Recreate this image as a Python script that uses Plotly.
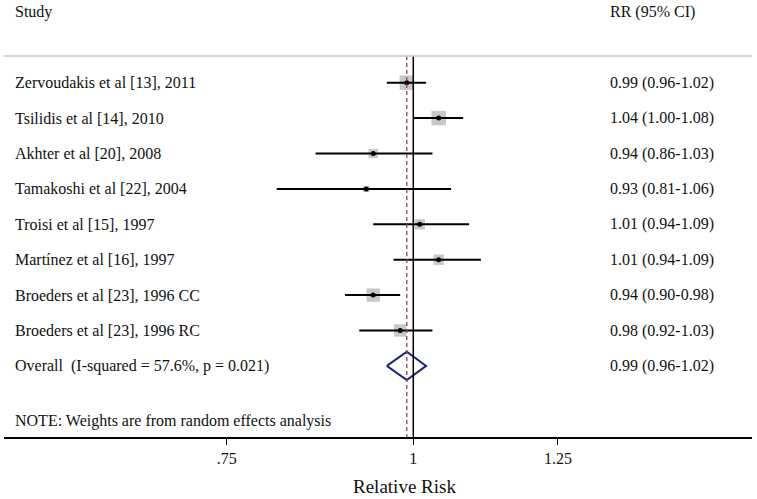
import math
import plotly.graph_objects as go

# ---------------- data ----------------
studies = [
    "Zervoudakis et al [13], 2011",
    "Tsilidis et al [14], 2010",
    "Akhter et al [20], 2008",
    "Tamakoshi et al [22], 2004",
    "Troisi et al [15], 1997",
    "Martínez et al [16], 1997",
    "Broeders et al [23], 1996 CC",
    "Broeders et al [23], 1996 RC",
]
rr_labels = [
    "0.99 (0.96-1.02)",
    "1.04 (1.00-1.08)",
    "0.94 (0.86-1.03)",
    "0.93 (0.81-1.06)",
    "1.01 (0.94-1.09)",
    "1.01 (0.94-1.09)",
    "0.94 (0.90-0.98)",
    "0.98 (0.92-1.03)",
]
rr_point = [0.99, 1.04, 0.94, 0.93, 1.01, 1.04, 0.94, 0.98]
rr_low = [0.96, 1.00, 0.86, 0.81, 0.94, 0.97, 0.90, 0.92]
rr_high = [1.02, 1.08, 1.03, 1.06, 1.09, 1.11, 0.98, 1.03]
weights = [19.2, 19.2, 7.9, 3.5, 9.8, 9.8, 16.5, 14.1]

overall_label = "Overall  (I-squared = 57.6%, p = 0.021)"
overall_text = "0.99 (0.96-1.02)"
overall_point = 0.99
overall_low = 0.96
overall_high = 1.02

note_text = "NOTE: Weights are from random effects analysis"
tick_vals = [0.75, 1, 1.25]
tick_text = [".75", "1", "1.25"]

# ---------------- styles ----------------
FONT = "Liberation Serif"
TXT = "#111111"
n = len(studies)
rows = list(range(n))
overall_row = n

fig = go.Figure()

# CI lines
cx, cy = [], []
for i in rows:
    cx += [rr_low[i], rr_high[i], None]
    cy += [i, i, None]

# weight boxes
fig.add_trace(go.Scatter(
    x=rr_point, y=rows, mode="markers",
    marker=dict(symbol="square", color="#b0b0b0",
                size=[3.3 * math.sqrt(w) for w in weights], line=dict(width=0)),
    hoverinfo="skip"))

# CI lines on top of boxes
fig.add_trace(go.Scatter(x=cx, y=cy, mode="lines",
                         line=dict(color="black", width=2), hoverinfo="skip"))

# point estimates
fig.add_trace(go.Scatter(
    x=rr_point, y=rows, mode="markers",
    marker=dict(symbol="circle", color="black", size=5), hoverinfo="skip"))

# overall diamond
h = 0.4
fig.add_trace(go.Scatter(
    x=[overall_low, overall_point, overall_high, overall_point, overall_low],
    y=[overall_row, overall_row - h, overall_row, overall_row + h, overall_row],
    mode="lines", line=dict(color="#1c2678", width=2), hoverinfo="skip"))

y_top = -2.336
y_bot = 10.008
sep_y = -0.754

# reference lines
fig.add_shape(type="line", xref="x", yref="y", x0=1, x1=1, y0=sep_y, y1=y_bot,
              line=dict(color="black", width=1.5))
fig.add_shape(type="line", xref="x", yref="y", x0=overall_point, x1=overall_point,
              y0=sep_y, y1=y_bot, line=dict(color="#a33a52", width=1.3, dash="4px,3px"))
# header separator
fig.add_shape(type="line", xref="paper", yref="y", x0=0, x1=1, y0=sep_y, y1=sep_y,
              line=dict(color="#c8c8c8", width=1.5))

ann = []
def txt(x, y, s, size=16, xanchor="left", yref="y"):
    ann.append(dict(x=x, y=y, xref="paper", yref=yref, text=s, showarrow=False,
                    xanchor=xanchor, yanchor="middle",
                    font=dict(family=FONT, size=size, color=TXT)))

LX = 0.0116
RX = 0.8075
txt(LX, -2.0, "Study")
txt(RX, -2.0, "RR (95% CI)")
for i in rows:
    txt(LX, i, studies[i])
    txt(RX, i, rr_labels[i])
txt(LX, overall_row, overall_label)
txt(RX, overall_row, overall_text)
txt(LX, 9.55, note_text)
txt(0.536, -0.1144, "Relative Risk", size=19, xanchor="center", yref="paper")

fig.update_layout(
    width=757, height=499, autosize=False,
    margin=dict(l=4, r=5, t=0, b=62),
    paper_bgcolor="white", plot_bgcolor="white",
    showlegend=False,
    annotations=ann,
    xaxis=dict(type="log", range=[-0.2743, 0.2270], showgrid=False, zeroline=False,
               showline=True, linecolor="black", linewidth=1.5,
               ticks="outside", ticklen=6, tickcolor="black", tickwidth=1.2,
               tickvals=tick_vals, ticktext=tick_text,
               tickfont=dict(family=FONT, size=16, color=TXT)),
    yaxis=dict(range=[y_bot, y_top], visible=False, showgrid=False, zeroline=False),
)

fig.write_html("out.html", config={"displayModeBar": False},
               post_script="document.body.style.margin='0';document.body.style.overflow='hidden';")
